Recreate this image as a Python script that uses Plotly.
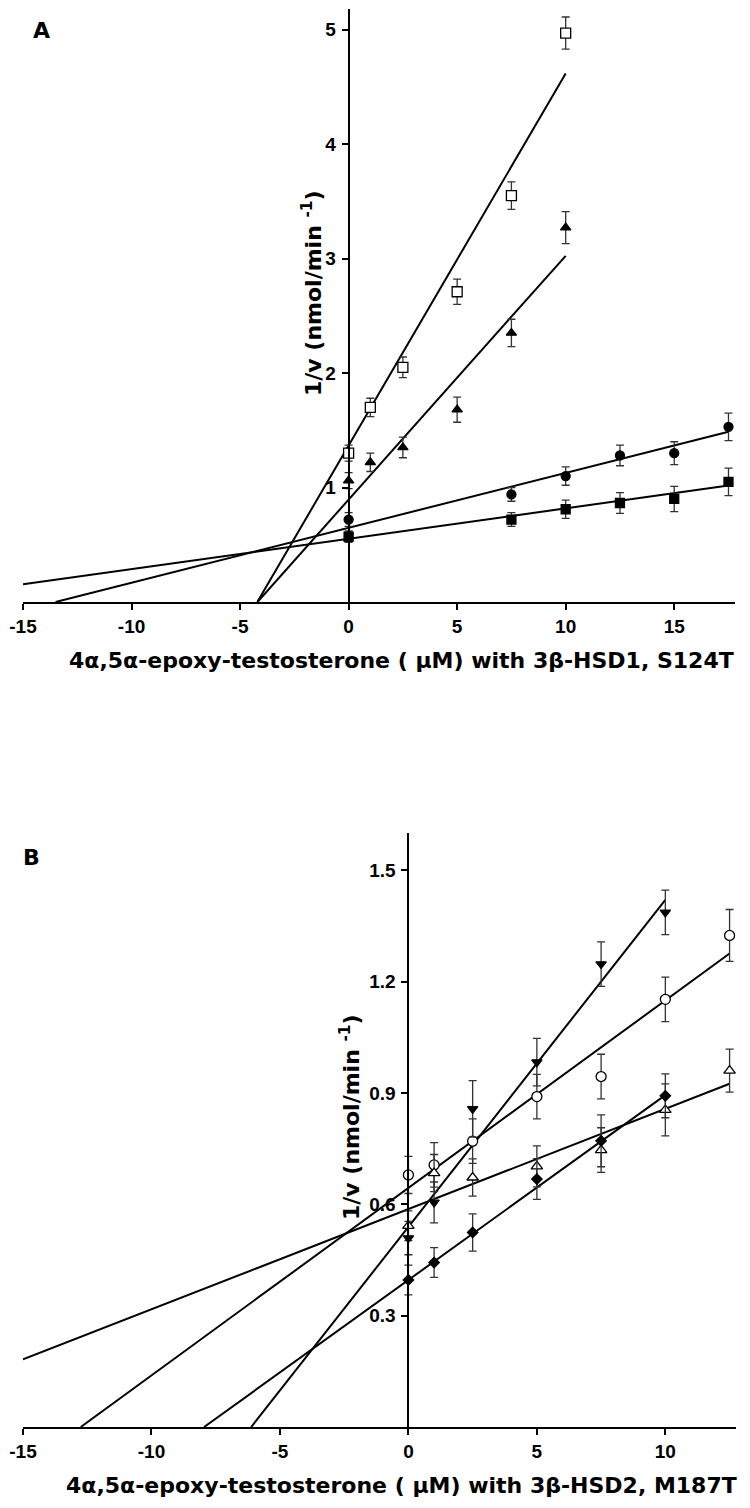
import plotly.graph_objects as go

# ---- panel A : 3b-HSD1 S124T ----
a_x_sq_open = [0, 1, 2.5, 5, 7.5, 10]
a_y_sq_open = [1.30, 1.70, 2.05, 2.71, 3.55, 4.97]
a_e_sq_open = [0.07, 0.08, 0.09, 0.11, 0.12, 0.14]

a_x_tri = [0, 1, 2.5, 5, 7.5, 10]
a_y_tri = [1.06, 1.22, 1.35, 1.68, 2.35, 3.27]
a_e_tri = [0.07, 0.08, 0.09, 0.11, 0.12, 0.14]

a_x_circ = [0, 7.5, 10, 12.5, 15, 17.5]
a_y_circ = [0.72, 0.94, 1.10, 1.28, 1.30, 1.53]
a_e_circ = [0.06, 0.06, 0.08, 0.09, 0.10, 0.12]

a_x_sq = [0, 7.5, 10, 12.5, 15, 17.5]
a_y_sq = [0.57, 0.72, 0.81, 0.865, 0.90, 1.05]
a_e_sq = [0.05, 0.06, 0.08, 0.09, 0.11, 0.12]

# fitted lines: slope, intercept, x start (None = x-intercept), x end
a_fit_slope = [0.325, 0.213, 0.0480, 0.0265]
a_fit_icpt = [1.367, 0.894, 0.648, 0.553]
a_fit_x0 = [None, None, None, -15]
a_fit_x1 = [10, 10, 17.5, 17.5]

a_xticks = [-15, -10, -5, 0, 5, 10, 15]
a_yticks = [1, 2, 3, 4, 5]

# ---- panel B : 3b-HSD2 M187T ----
b_x_tdown = [0, 1, 2.5, 5, 7.5, 10]
b_y_tdown = [0.509, 0.605, 0.857, 0.983, 1.247, 1.386]
b_e_tdown = [0.045, 0.055, 0.076, 0.064, 0.06, 0.06]

b_x_ocirc = [0, 1, 2.5, 5, 7.5, 10, 12.5]
b_y_ocirc = [0.679, 0.706, 0.770, 0.890, 0.944, 1.152, 1.324]
b_e_ocirc = [0.05, 0.06, 0.06, 0.06, 0.06, 0.06, 0.07]

b_x_otri = [0, 1, 2.5, 5, 7.5, 10, 12.5]
b_y_otri = [0.542, 0.684, 0.672, 0.702, 0.746, 0.854, 0.96]
b_e_otri = [0.04, 0.05, 0.05, 0.055, 0.06, 0.07, 0.058]

b_x_dia = [0, 1, 2.5, 5, 7.5, 10]
b_y_dia = [0.396, 0.443, 0.524, 0.668, 0.771, 0.892]
b_e_dia = [0.04, 0.04, 0.05, 0.055, 0.07, 0.059]

b_fit_slope = [0.0881, 0.0505, 0.027, 0.0498]
b_fit_icpt = [0.539, 0.644, 0.587, 0.396]
b_fit_x0 = [None, None, -15, None]
b_fit_x1 = [10, 12.5, 12.5, 10]

b_xticks = [-15, -10, -5, 0, 5, 10]
b_yticks = [0.3, 0.6, 0.9, 1.2, 1.5]

TICK_FONT = "Liberation Sans, Arial, sans-serif"
TITLE_FONT = "DejaVu Sans, Verdana, sans-serif"
OFF = 8  # page body margin in the browser
W, H = 750 - OFF, 1508 - OFF

fig = go.Figure()


def add_fits(slopes, icpts, x0s, x1s, xa, ya):
    for m, b, x0, x1 in zip(slopes, icpts, x0s, x1s):
        if x0 is None:
            x0 = -b / m
        fig.add_trace(go.Scatter(x=[x0, x1], y=[b + m * x0, b + m * x1], mode="lines",
                                 line=dict(color="black", width=2), xaxis=xa, yaxis=ya,
                                 hoverinfo="skip"))


def add_points(x, y, e, symbol, fill, size, xa, ya):
    fig.add_trace(go.Scatter(
        x=x, y=y, mode="markers", xaxis=xa, yaxis=ya,
        error_y=dict(type="data", array=e, visible=True, color="#333333", thickness=1.3, width=4),
        marker=dict(symbol=symbol, size=size, color=fill, line=dict(color="black", width=1.3))))


add_fits(a_fit_slope, a_fit_icpt, a_fit_x0, a_fit_x1, "x", "y")
add_points(a_x_sq_open, a_y_sq_open, a_e_sq_open, "square", "white", 10, "x", "y")
add_points(a_x_tri, a_y_tri, a_e_tri, "triangle-up", "black", 9, "x", "y")
add_points(a_x_circ, a_y_circ, a_e_circ, "circle", "black", 9, "x", "y")
add_points(a_x_sq, a_y_sq, a_e_sq, "square", "black", 9, "x", "y")

add_fits(b_fit_slope, b_fit_icpt, b_fit_x0, b_fit_x1, "x2", "y2")
add_points(b_x_ocirc, b_y_ocirc, b_e_ocirc, "circle", "white", 10, "x2", "y2")
add_points(b_x_otri, b_y_otri, b_e_otri, "triangle-up", "white", 10, "x2", "y2")
add_points(b_x_tdown, b_y_tdown, b_e_tdown, "triangle-down", "black", 9, "x2", "y2")
add_points(b_x_dia, b_y_dia, b_e_dia, "diamond", "black", 8, "x2", "y2")

tickfont = dict(family=TICK_FONT, size=19, color="black", weight="bold")
axis_common = dict(showline=True, linecolor="black", linewidth=2, ticks="outside", ticklen=6,
                   tickwidth=2, tickcolor="black", showgrid=False, zeroline=False,
                   tickfont=tickfont, automargin=False, ticklabeloverflow="allow")

# pixel layout of plot areas (page coordinates)
a_left, a_right, a_top, a_bot = 23, 735, 9, 602
b_left, b_right, b_top, b_bot = 23, 736, 833, 1427
a_xr = [-15, 17.8]
a_yr = [0, 5.18]
b_xr = [-15, 12.75]
b_yr = [0, 1.6]


def fx(px):
    return min(max((px - OFF) / W, 0), 1)


def fy(py):
    return min(max((H - (py - OFF)) / H, 0), 1)


def ypos(x_left, x_right, xr):
    return fx(x_left + (0 - xr[0]) / (xr[1] - xr[0]) * (x_right - x_left))


fig.update_layout(
    width=W, height=H, plot_bgcolor="white", paper_bgcolor="white", showlegend=False,
    margin=dict(l=0, r=0, t=0, b=0, pad=0),
    xaxis=dict(domain=[fx(a_left), fx(a_right)], range=a_xr, anchor="y",
               tickvals=a_xticks, ticktext=[str(v) for v in a_xticks],
               ticklabelstandoff=0, **axis_common),
    yaxis=dict(domain=[fy(a_bot), fy(a_top)], range=a_yr, anchor="free",
               position=ypos(a_left, a_right, a_xr), tickvals=a_yticks,
               ticktext=[str(v) for v in a_yticks], ticklabelstandoff=2, **axis_common),
    xaxis2=dict(domain=[fx(b_left), fx(b_right)], range=b_xr, anchor="y2",
                tickvals=b_xticks, ticktext=[str(v) for v in b_xticks],
                ticklabelstandoff=0, **axis_common),
    yaxis2=dict(domain=[fy(b_bot), fy(b_top)], range=b_yr, anchor="free",
                position=ypos(b_left, b_right, b_xr), tickvals=b_yticks,
                ticktext=[f"{v:.1f}" for v in b_yticks], ticklabelstandoff=2, **axis_common),
)

title_font = dict(family=TITLE_FONT, size=22, color="black", weight="bold")
ytitle = "1/v (nmol/min <sup>-1</sup>)"
xtitle_a = "4α,5α-epoxy-testosterone ( μM) with 3β-HSD1, S124T"
xtitle_b = "4α,5α-epoxy-testosterone ( μM) with 3β-HSD2, M187T"

for txt, px, py, ang in [
    (ytitle, 312, 293, -90), (ytitle, 350, 1117, -90),
    (xtitle_a, 401, 660, 0), (xtitle_b, 401, 1485, 0),
    ("A", 41, 30, 0), ("B", 31, 857, 0),
]:
    fig.add_annotation(text=txt, x=fx(px), y=fy(py), xref="paper", yref="paper",
                       showarrow=False, textangle=ang, font=title_font,
                       xanchor="center", yanchor="middle")

fig.write_html("out.html")
